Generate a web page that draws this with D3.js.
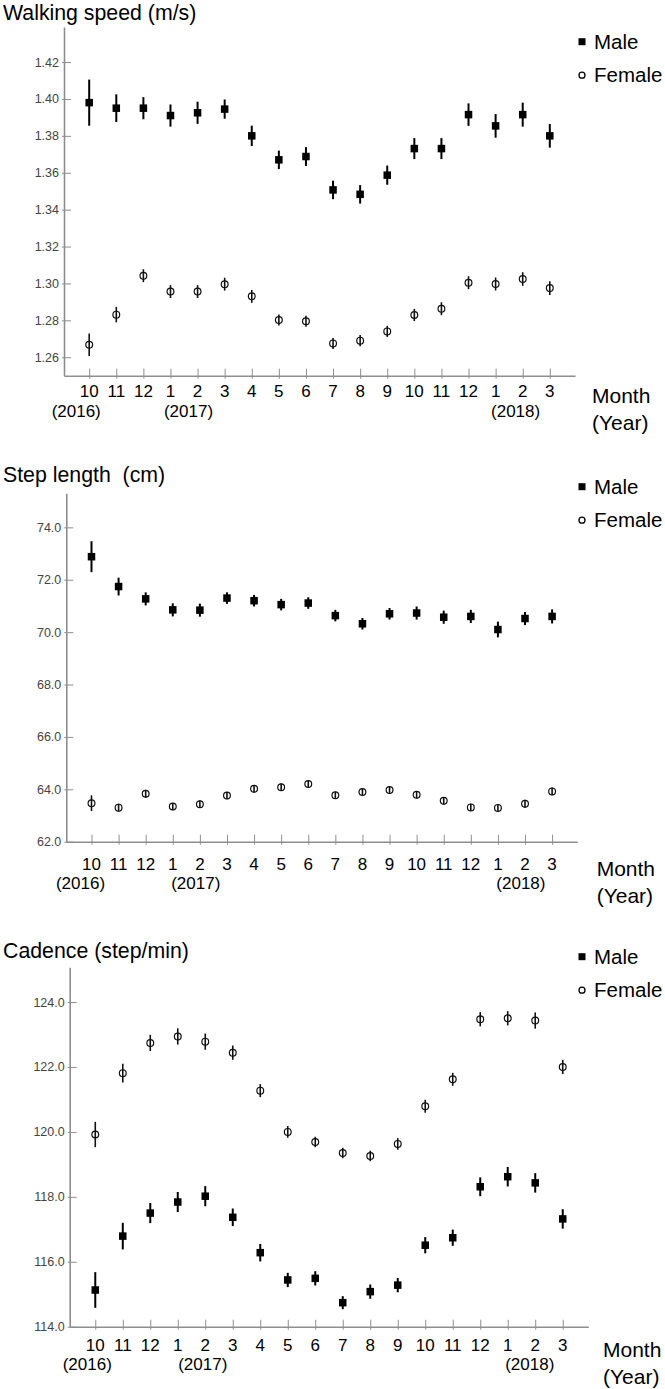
<!DOCTYPE html>
<html><head><meta charset="utf-8">
<script src="https://cdn.jsdelivr.net/npm/d3@7"></script>
<style>
html,body{margin:0;padding:0;background:#fff;}
svg{display:block;font-family:"Liberation Sans",Arial,sans-serif;}
</style></head>
<body>
<script>
// ---- data ----
const months = ["10","11","12","1","2","3","4","5","6","7","8","9","10","11","12","1","2","3"];
const yearLabels = [{i:0, text:"(2016)"}, {i:3, text:"(2017)"}, {i:15, text:"(2018)"}];
const seriesNames = ["Male","Female"];

const speedTicks = [1.26,1.28,1.30,1.32,1.34,1.36,1.38,1.40,1.42];
const speedMale = [1.398,1.395,1.395,1.391,1.3925,1.3945,1.380,1.367,1.3688,1.3507,1.3483,1.3587,1.3731,1.3731,1.3915,1.3854,1.3915,1.3800];
const speedMaleErr = [0.0125,0.0075,0.006,0.006,0.006,0.0052,0.0055,0.005,0.0051,0.005,0.005,0.0052,0.0057,0.0057,0.0061,0.0064,0.0065,0.0064];
const speedFemale = [1.2668,1.2831,1.3042,1.2956,1.2956,1.2996,1.2930,1.2802,1.2795,1.2675,1.2690,1.2740,1.2829,1.2863,1.3004,1.2997,1.3024,1.2975];
const speedFemaleErr = [0.0061,0.0042,0.0035,0.0035,0.0035,0.0035,0.0035,0.003,0.003,0.003,0.003,0.003,0.0033,0.0035,0.0035,0.0035,0.0037,0.0037];

const stepTicks = [62,64,66,68,70,72,74];
const stepMale = [72.88,71.74,71.27,70.85,70.84,71.30,71.20,71.05,71.11,70.63,70.32,70.70,70.73,70.57,70.60,70.10,70.52,70.60];
const stepMaleErr = [0.59,0.34,0.25,0.25,0.25,0.22,0.22,0.22,0.22,0.22,0.22,0.22,0.25,0.25,0.25,0.3,0.25,0.27];
const stepFemale = [63.47,63.30,63.83,63.34,63.43,63.76,64.02,64.08,64.20,63.77,63.90,63.97,63.79,63.56,63.31,63.29,63.45,63.92];
const stepFemaleErr = [0.3,0.15,0.15,0.14,0.14,0.14,0.14,0.14,0.14,0.14,0.14,0.14,0.14,0.14,0.14,0.14,0.15,0.15];

const cadTicks = [114,116,118,120,122,124];
const cadMale = [115.13,116.79,117.50,117.84,118.02,117.37,116.28,115.44,115.49,114.74,115.08,115.28,116.51,116.74,118.31,118.62,118.43,117.32];
const cadMaleErr = [0.55,0.41,0.31,0.31,0.31,0.27,0.27,0.22,0.22,0.2,0.22,0.22,0.25,0.25,0.29,0.3,0.3,0.3];
const cadFemale = [119.92,121.81,122.74,122.94,122.78,122.44,121.27,120.0,119.69,119.35,119.26,119.63,120.79,121.62,123.47,123.50,123.43,122.0];
const cadFemaleErr = [0.39,0.29,0.25,0.25,0.25,0.22,0.2,0.18,0.16,0.16,0.16,0.18,0.2,0.2,0.22,0.22,0.25,0.22];

// ---- layout ----
const W = 665, H = 1389;
const svg = d3.select("body").append("svg").attr("width", W).attr("height", H);

const panels = [
  {title:"Walking speed (m/s)", titleY:19.5, left:64, right:575, top:27, bottom:375.7,
   domain:[1.25,1.439], ticks:speedTicks, fmt:d3.format(".2f"),
   male:speedMale, maleErr:speedMaleErr, female:speedFemale, femaleErr:speedFemaleErr,
   monthDy:21.6, yearDy:40.8, yearDx:[-13,18,20], legendY:41.7, monthX:592, monthY:402.7},
  {title:"Step length  (cm)", titleY:481.7, left:66.3, right:577.3, top:493.3, bottom:841.7,
   domain:[62,75.3], ticks:stepTicks, fmt:d3.format(".1f"),
   male:stepMale, maleErr:stepMaleErr, female:stepFemale, femaleErr:stepFemaleErr,
   monthDy:28, yearDy:47.2, yearDx:[-11,23,23], legendY:486.7, monthX:596.7, monthY:876},
  {title:"Cadence (step/min)", titleY:958.3, left:69.7, right:588.3, top:967.3, bottom:1326.7,
   domain:[114,125.07], ticks:cadTicks, fmt:d3.format(".1f"),
   male:cadMale, maleErr:cadMaleErr, female:cadFemale, femaleErr:cadFemaleErr,
   monthDy:24, yearDy:43.2, yearDx:[-8,25,22], legendY:956.7, monthX:603, monthY:1356.7}
];

const axisColor = "#8e8e8e";
const tickFont = 17;

panels.forEach(p => {
  const g = svg.append("g");
  const x = d3.scalePoint().domain(d3.range(months.length)).range([p.left, p.right]).padding(0.93);
  const y = d3.scaleLinear().domain(p.domain).range([p.bottom, p.top]);

  // title
  g.append("text").attr("x", 3).attr("y", p.titleY).attr("font-size", 21.3)
    .attr("fill", "#000").style("white-space","pre").text(p.title);

  // y axis
  const ya = g.append("g").attr("transform", `translate(${p.left},0)`)
    .call(d3.axisLeft(y).tickValues(p.ticks).tickFormat(p.fmt).tickSize(-7).tickSizeOuter(0).tickPadding(5));
  ya.select(".domain").attr("stroke", axisColor).attr("stroke-width", 1.6);
  ya.selectAll(".tick line").attr("x1", -2).attr("x2", 7).attr("stroke", axisColor).attr("stroke-width", 1);
  ya.selectAll(".tick text").attr("font-size", 12.5).attr("fill", "#444")
    .attr("font-family", "'Liberation Sans',Arial,sans-serif");

  // x axis
  const xa = g.append("g").attr("transform", `translate(0,${p.bottom})`)
    .call(d3.axisBottom(x).tickFormat("").tickSize(-7).tickSizeOuter(0));
  xa.select(".domain").attr("stroke", axisColor).attr("stroke-width", 1.6);
  xa.selectAll(".tick line").attr("y1", 3).attr("y2", -7).attr("stroke", axisColor).attr("stroke-width", 1);

  // month labels
  g.selectAll(".month").data(months).join("text")
    .attr("class", "month")
    .attr("x", (d,i) => x(i)).attr("y", p.bottom + p.monthDy)
    .attr("text-anchor", "middle").attr("font-size", tickFont).attr("fill", "#000").text(d => d);
  // year labels
  g.selectAll(".year").data(yearLabels).join("text")
    .attr("class", "year")
    .attr("x", (d,k) => x(d.i) + p.yearDx[k]).attr("y", p.bottom + p.yearDy)
    .attr("text-anchor", "middle").attr("font-size", tickFont).attr("fill", "#000").text(d => d.text);

  // "Month (Year)"
  const mt = g.append("text").attr("x", p.monthX).attr("y", p.monthY).attr("font-size", 21);
  mt.append("tspan").attr("x", p.monthX).text("Month");
  mt.append("tspan").attr("x", p.monthX).attr("dy", 27).text("(Year)");

  // female error bars + circles
  g.selectAll(".fbar").data(p.female).join("line")
    .attr("x1", (d,i) => x(i)).attr("x2", (d,i) => x(i))
    .attr("y1", (d,i) => y(d - p.femaleErr[i])).attr("y2", (d,i) => y(d + p.femaleErr[i]))
    .attr("stroke", "#111").attr("stroke-width", 1.6);
  g.selectAll(".fpt").data(p.female).join("circle")
    .attr("cx", (d,i) => x(i)).attr("cy", d => y(d)).attr("r", 3.4)
    .attr("fill", "none").attr("stroke", "#111").attr("stroke-width", 1.2);

  // male error bars + squares
  g.selectAll(".mbar").data(p.male).join("line")
    .attr("x1", (d,i) => x(i)).attr("x2", (d,i) => x(i))
    .attr("y1", (d,i) => y(d - p.maleErr[i])).attr("y2", (d,i) => y(d + p.maleErr[i]))
    .attr("stroke", "#000").attr("stroke-width", 2);
  const s = 7.5;
  g.selectAll(".mpt").data(p.male).join("rect")
    .attr("x", (d,i) => x(i) - s/2).attr("y", d => y(d) - s/2)
    .attr("width", s).attr("height", s).attr("fill", "#000");

  // legend
  const lg = g.append("g");
  lg.append("rect").attr("x", 582 - 3.5).attr("y", p.legendY - 3.5).attr("width", 7).attr("height", 7).attr("fill", "#000");
  lg.append("circle").attr("cx", 582).attr("cy", p.legendY + 33.5).attr("r", 3).attr("fill", "none").attr("stroke", "#000").attr("stroke-width", 1.3);
  lg.append("text").attr("x", 594).attr("y", p.legendY + 7.5).attr("font-size", 20.5).text(seriesNames[0]);
  lg.append("text").attr("x", 594).attr("y", p.legendY + 40.5).attr("font-size", 20.5).text(seriesNames[1]);
});
</script>
</body></html>
